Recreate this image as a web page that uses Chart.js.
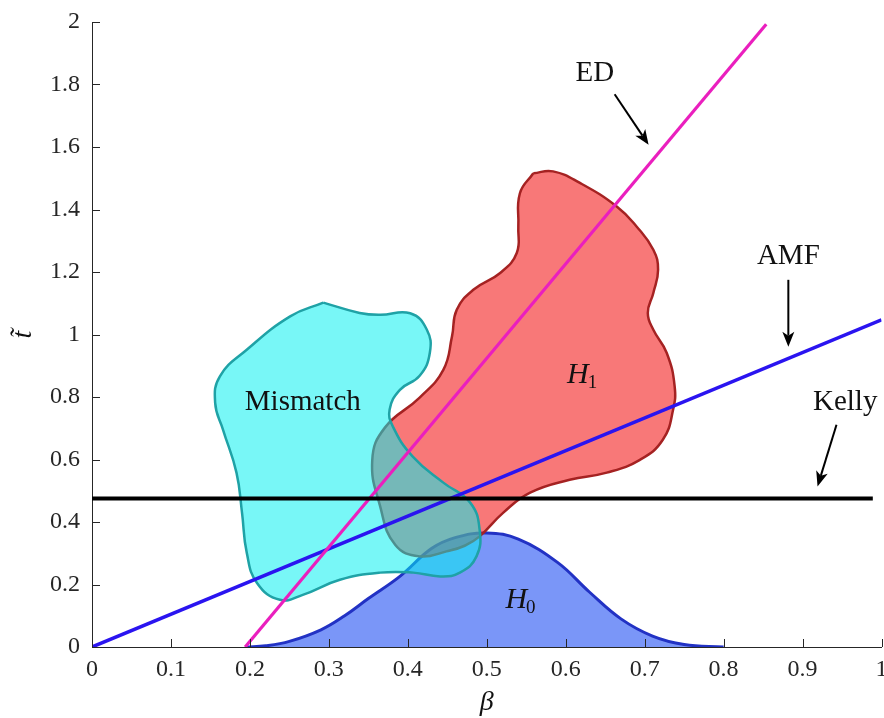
<!DOCTYPE html>
<html>
<head>
<meta charset="utf-8">
<script src="https://cdn.jsdelivr.net/npm/chart.js@4.4.1/dist/chart.umd.min.js"></script>
<style>
  html, body { margin: 0; padding: 0; background: #fff; }
  canvas { display: block; }
</style>
</head>
<body>
<canvas id="detChart" width="884" height="718"></canvas>
<script>
// detector regions in the (beta, t~) plane
const xTicks = [0, 0.1, 0.2, 0.3, 0.4, 0.5, 0.6, 0.7, 0.8, 0.9, 1];
const yTicks = [0, 0.2, 0.4, 0.6, 0.8, 1, 1.2, 1.4, 1.6, 1.8, 2];

const mismatchX = [0.293, 0.339, 0.365, 0.403, 0.424, 0.428, 0.415, 0.390, 0.377, 0.381, 0.406, 0.445, 0.479, 0.491, 0.487, 0.466, 0.441, 0.407, 0.365, 0.314, 0.267, 0.238, 0.209, 0.196, 0.190, 0.183, 0.166, 0.156, 0.162, 0.196, 0.251, 0.293];
const mismatchY = [1.102, 1.069, 1.063, 1.068, 1.016, 0.943, 0.868, 0.823, 0.760, 0.706, 0.610, 0.526, 0.462, 0.375, 0.290, 0.238, 0.226, 0.238, 0.238, 0.215, 0.167, 0.151, 0.205, 0.302, 0.430, 0.558, 0.695, 0.781, 0.866, 0.951, 1.058, 1.102];

const h1X = [0.559, 0.584, 0.618, 0.665, 0.690, 0.711, 0.717, 0.711, 0.704, 0.711, 0.728, 0.738, 0.736, 0.723, 0.694, 0.652, 0.605, 0.555, 0.521, 0.491, 0.472, 0.449, 0.415, 0.384, 0.365, 0.355, 0.371, 0.415, 0.445, 0.456, 0.462, 0.483, 0.517, 0.538, 0.540, 0.542, 0.559];
const h1Y = [1.516, 1.522, 1.485, 1.409, 1.345, 1.271, 1.207, 1.133, 1.069, 1.015, 0.941, 0.834, 0.759, 0.663, 0.599, 0.558, 0.535, 0.494, 0.430, 0.354, 0.324, 0.306, 0.290, 0.327, 0.450, 0.599, 0.702, 0.798, 0.887, 0.994, 1.079, 1.143, 1.197, 1.261, 1.345, 1.452, 1.516];

const h0X = [0.195, 0.22, 0.25, 0.29, 0.32, 0.35, 0.39, 0.43, 0.46, 0.50, 0.54, 0.59, 0.63, 0.67, 0.71, 0.75, 0.80];
const h0Y = [0, 0.004, 0.018, 0.055, 0.10, 0.155, 0.226, 0.315, 0.350, 0.365, 0.345, 0.270, 0.176, 0.090, 0.035, 0.008, 0];

const edX = [0.194, 0.854];
const edY = [0, 1.993];
const amfX = [0, 1];
const amfY = [0, 1.047];
const kellyX = [0, 0.989];
const kellyY = [0.475, 0.475];

function pts(xs, ys) {
    return xs.map((x, i) => ({ x: x, y: ys[i] }));
}

const serif = '"Liberation Serif", "DejaVu Serif", serif';
const axisColor = '#262626';

// text labels and arrows, given in data units
const notes = [
    { text: 'ED', x: 0.637, y: 1.836 },
    { text: 'AMF', x: 0.882, y: 1.250 },
    { text: 'Kelly', x: 0.954, y: 0.782 },
    { text: 'Mismatch', x: 0.267, y: 0.782 }
];
const arrows = [
    { x0: 0.662, y0: 1.769, x1: 0.705, y1: 1.607 },
    { x0: 0.882, y0: 1.175, x1: 0.882, y1: 0.961 },
    { x0: 0.943, y0: 0.711, x1: 0.919, y1: 0.514 }
];
const hyp = [
    { sub: '1', x: 0.624, y: 0.871 },
    { sub: '0', x: 0.546, y: 0.151 }
];

const decorPlugin = {
    id: 'decor',
    afterDatasetsDraw(chart) {
        const ctx = chart.ctx;
        const xs = chart.scales.x, ys = chart.scales.y;
        const area = chart.chartArea;
        ctx.save();

        // inward tick marks
        ctx.strokeStyle = axisColor;
        ctx.lineWidth = 1;
        ctx.beginPath();
        xs.ticks.forEach(t => {
            const px = Math.round(xs.getPixelForValue(t.value)) + 0.5;
            ctx.moveTo(px, area.bottom);
            ctx.lineTo(px, area.bottom - 8);
        });
        ys.ticks.forEach(t => {
            const py = Math.round(ys.getPixelForValue(t.value)) + 0.5;
            ctx.moveTo(area.left, py);
            ctx.lineTo(area.left + 8, py);
        });
        ctx.stroke();

        // arrows
        ctx.strokeStyle = '#000';
        ctx.fillStyle = '#000';
        ctx.lineWidth = 2;
        arrows.forEach(a => {
            const x0 = xs.getPixelForValue(a.x0), y0 = ys.getPixelForValue(a.y0);
            const x1 = xs.getPixelForValue(a.x1), y1 = ys.getPixelForValue(a.y1);
            const ang = Math.atan2(y1 - y0, x1 - x0);
            const hl = 15, hw = 6;
            const bx = x1 - hl * Math.cos(ang), by = y1 - hl * Math.sin(ang);
            ctx.beginPath();
            ctx.moveTo(x0, y0);
            ctx.lineTo(bx + 4 * Math.cos(ang), by + 4 * Math.sin(ang));
            ctx.stroke();
            ctx.beginPath();
            ctx.moveTo(x1, y1);
            ctx.lineTo(bx - hw * Math.sin(ang), by + hw * Math.cos(ang));
            ctx.lineTo(bx + 4 * Math.cos(ang), by + 4 * Math.sin(ang));
            ctx.lineTo(bx + hw * Math.sin(ang), by - hw * Math.cos(ang));
            ctx.closePath();
            ctx.fill();
        });

        // labels
        ctx.fillStyle = '#111';
        ctx.textAlign = 'center';
        ctx.textBaseline = 'middle';
        ctx.font = '29px ' + serif;
        notes.forEach(n => {
            ctx.fillText(n.text, xs.getPixelForValue(n.x), ys.getPixelForValue(n.y));
        });
        hyp.forEach(h => {
            const px = xs.getPixelForValue(h.x), py = ys.getPixelForValue(h.y);
            ctx.font = 'italic 30px ' + serif;
            ctx.textAlign = 'right';
            ctx.fillText('H', px + 4, py);
            ctx.font = '19px ' + serif;
            ctx.textAlign = 'left';
            ctx.fillText(h.sub, px + 3, py + 8);
        });

        // axis titles
        ctx.font = 'italic 28px ' + serif;
        ctx.textAlign = 'center';
        ctx.fillText('\u03B2', (area.left + area.right) / 2, 703);
        ctx.translate(24, (area.top + area.bottom) / 2);
        ctx.rotate(-Math.PI / 2);
        ctx.fillText('t\u0303', 0, 0);
        ctx.restore();
    }
};

const ctx = document.getElementById('detChart').getContext('2d');

new Chart(ctx, {
    type: 'scatter',
    data: {
        datasets: [
            {
                label: 'Kelly',
                data: pts(kellyX, kellyY),
                showLine: true,
                borderColor: '#000000',
                borderWidth: 4,
                pointRadius: 0,
                fill: false,
                order: 1
            },
            {
                label: 'ED',
                data: pts(edX, edY),
                showLine: true,
                borderColor: '#ea1fbe',
                borderWidth: 3.2,
                pointRadius: 0,
                fill: false,
                order: 2
            },
            {
                label: 'AMF',
                data: pts(amfX, amfY),
                showLine: true,
                borderColor: '#2a14f0',
                borderWidth: 3.5,
                pointRadius: 0,
                fill: false,
                order: 3
            },
            {
                label: 'Mismatch',
                data: pts(mismatchX, mismatchY),
                showLine: true,
                tension: 0.45,
                borderColor: '#1fa2a6',
                backgroundColor: 'rgba(0, 240, 240, 0.53)',
                borderWidth: 2.5,
                pointRadius: 0,
                fill: 'shape',
                order: 4
            },
            {
                label: 'H1',
                data: pts(h1X, h1Y),
                showLine: true,
                tension: 0.45,
                borderColor: '#a52222',
                backgroundColor: 'rgba(241, 0, 0, 0.53)',
                borderWidth: 2.5,
                pointRadius: 0,
                fill: 'shape',
                order: 5
            },
            {
                label: 'H0',
                data: pts(h0X, h0Y),
                showLine: true,
                tension: 0.4,
                borderColor: '#2232c4',
                backgroundColor: 'rgba(0, 54, 242, 0.52)',
                borderWidth: 3,
                pointRadius: 0,
                fill: 'origin',
                order: 6
            }
        ]
    },
    options: {
        responsive: false,
        animation: false,
        layout: { padding: { top: 22, right: 2.5, left: 0, bottom: 0 } },
        scales: {
            x: {
                type: 'linear',
                min: 0,
                max: 1,
                afterBuildTicks: s => { s.ticks = xTicks.map(v => ({ value: v })); },
                afterFit: s => { s.height = 71; s.paddingLeft = 0; s.paddingRight = 0; },
                grid: { display: false, drawTicks: false },
                border: { display: true, color: axisColor, width: 1 },
                ticks: {
                    padding: 8,
                    color: axisColor,
                    font: { family: serif, size: 24 },
                    maxRotation: 0,
                    callback: v => String(v)
                }
            },
            y: {
                type: 'linear',
                min: 0,
                max: 2,
                afterBuildTicks: s => { s.ticks = yTicks.map(v => ({ value: v })); },
                afterFit: s => { s.width = 92; s.paddingTop = 0; s.paddingBottom = 0; },
                grid: { display: false, drawTicks: false },
                border: { display: true, color: axisColor, width: 1 },
                ticks: {
                    padding: 12,
                    color: axisColor,
                    font: { family: serif, size: 24 },
                    callback: v => String(v)
                }
            }
        },
        plugins: {
            legend: { display: false },
            tooltip: { enabled: false }
        }
    },
    plugins: [decorPlugin]
});
</script>
</body>
</html>
